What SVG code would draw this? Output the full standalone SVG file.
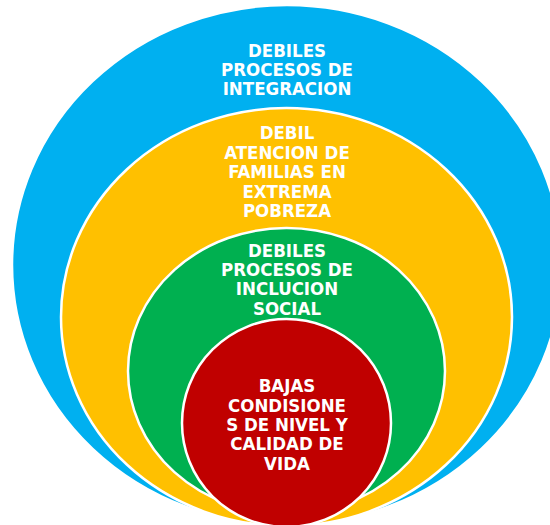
<svg xmlns="http://www.w3.org/2000/svg" width="550" height="525" viewBox="0 0 550 525">
<style>
.ring{stroke:#ffffff;stroke-width:2.5}
.t{font-family:"DejaVu Sans Condensed","DejaVu Sans",sans-serif;font-weight:bold;font-size:18.5px;fill:#ffffff;text-anchor:middle}
</style>
<rect width="550" height="525" fill="#ffffff"/>
<g id="blue">
<ellipse class="ring" cx="287" cy="265" rx="275" ry="260" fill="#00B0F0"/>
<text class="t"><tspan x="287" y="57">DEBILES</tspan><tspan x="287" y="76">PROCESOS DE</tspan><tspan x="287" y="95">INTEGRACION</tspan></text>
</g>
<g id="yellow">
<ellipse class="ring" cx="286.5" cy="317" rx="225.5" ry="209" fill="#FFC000"/>
<text class="t"><tspan x="287" y="139">DEBIL</tspan><tspan x="287" y="158.5">ATENCION DE</tspan><tspan x="287" y="178">FAMILIAS EN</tspan><tspan x="287" y="197.5">EXTREMA</tspan><tspan x="287" y="217">POBREZA</tspan></text>
</g>
<g id="green">
<ellipse class="ring" cx="286.5" cy="371" rx="158.5" ry="143" fill="#00B050"/>
<text class="t"><tspan x="287" y="256.5">DEBILES</tspan><tspan x="287" y="276">PROCESOS DE</tspan><tspan x="287" y="295">INCLUCION</tspan><tspan x="287" y="314.5">SOCIAL</tspan></text>
</g>
<g id="red">
<ellipse class="ring" cx="286.5" cy="423" rx="104.5" ry="104" fill="#C00000"/>
<text class="t"><tspan x="287" y="392">BAJAS</tspan><tspan x="287" y="411.5">CONDISIONE</tspan><tspan x="287" y="431">S DE NIVEL Y</tspan><tspan x="287" y="450">CALIDAD DE</tspan><tspan x="287" y="469.5">VIDA</tspan></text>
</g>
</svg>
